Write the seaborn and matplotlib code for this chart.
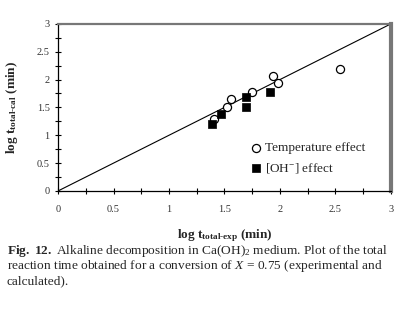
import matplotlib
matplotlib.use('Agg')
import matplotlib.pyplot as plt
import seaborn as sns
import pandas as pd

# values (log10 of minutes)
temp_exp = [1.41, 1.52, 1.56, 1.75, 1.94, 1.98, 2.54]
temp_cal = [1.29, 1.51, 1.66, 1.78, 2.06, 1.94, 2.19]
oh_exp = [1.39, 1.47, 1.69, 1.69, 1.91]
oh_cal = [1.21, 1.38, 1.68, 1.50, 1.78]
diag = [0, 3]

sns.set_theme(style='white')
plt.rcParams['font.family'] = ['Liberation Serif', 'DejaVu Serif']
plt.rcParams['mathtext.fontset'] = 'custom'
plt.rcParams['mathtext.rm'] = 'Liberation Serif'
plt.rcParams['mathtext.it'] = 'Liberation Serif:italic'
plt.rcParams['mathtext.bf'] = 'Liberation Serif:bold'

df_t = pd.DataFrame({'x': temp_exp, 'y': temp_cal})
df_o = pd.DataFrame({'x': oh_exp, 'y': oh_cal})

fig = plt.figure(figsize=(4.03, 3.10), dpi=100)
ax = fig.add_axes([0.144, 0.384, 0.826, 0.539])

sns.lineplot(x=diag, y=diag, color='black', lw=0.8, ax=ax)
sns.scatterplot(data=df_t, x='x', y='y', marker='o', s=34, facecolor='white',
                edgecolor='black', linewidth=0.9, label='Temperature effect', ax=ax, zorder=3)
sns.scatterplot(data=df_o, x='x', y='y', marker='s', s=26, color='black',
                edgecolor='black', linewidth=0.5, label='[OH$^{-}$] effect', ax=ax, zorder=3)

ax.set_xlim(0, 3)
ax.set_ylim(0, 3)
ax.set_xticks([0, 0.5, 1, 1.5, 2, 2.5, 3])
ax.set_xticklabels(['0', '0.5', '1', '1.5', '2', '2.5', '3'])
ax.set_yticks([0, 0.5, 1, 1.5, 2, 2.5, 3])
ax.set_yticklabels(['0', '0.5', '1', '1.5', '2', '2.5', '3'])
ax.set_xticks([0.25, 0.75, 1.25, 1.75, 2.25, 2.75], minor=True)
ax.set_yticks([0.25, 0.75, 1.25, 1.75, 2.25, 2.75], minor=True)
ax.tick_params(which='both', direction='inout', length=4, width=0.8, color='black',
               labelsize=7.5, labelcolor='#333333', left=True, bottom=True)
ax.tick_params(axis='x', pad=8)
ax.tick_params(axis='y', pad=4)

for s in ['left', 'bottom']:
    ax.spines[s].set_color('black')
    ax.spines[s].set_linewidth(0.9)
ax.spines['top'].set_color('#777777')
ax.spines['top'].set_linewidth(1.6)
ax.spines['right'].set_color('#777777')
ax.spines['right'].set_linewidth(3)

ax.set_xlabel(r'log t$_{\mathbf{total\text{-}exp}}$ (min)', fontsize=9.5, fontweight='bold', labelpad=10)
ax.set_ylabel(r'log t$_{\mathbf{total\text{-}cal}}$ (min)', fontsize=9.5, fontweight='bold', labelpad=12)

ax.legend(loc='upper left', bbox_to_anchor=(0.555, 0.325), frameon=False, fontsize=9.5,
          handletextpad=0.1, handlelength=1.2, labelspacing=0.5, borderaxespad=0)

fig.text(0.017, 0.191, r'$\mathbf{Fig.}$ $\mathbf{12.}$ Alkaline decomposition in Ca(OH)$_2$ medium. Plot of the total',
         fontsize=9.6, va='center')
fig.text(0.017, 0.141, r'reaction time obtained for a conversion of $X$ = 0.75 (experimental and',
         fontsize=9.6, va='center')
fig.text(0.017, 0.093, 'calculated).', fontsize=9.6, va='center')

fig.savefig('out.png', dpi=100)
